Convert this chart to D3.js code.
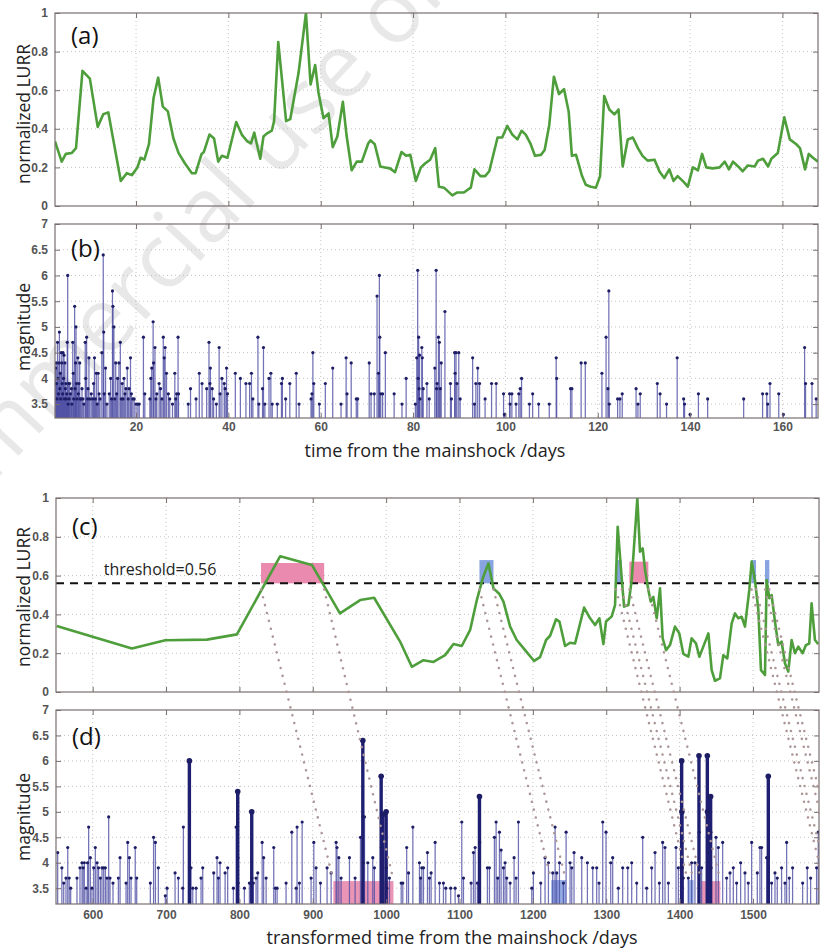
<!DOCTYPE html>
<html>
<head>
<meta charset="utf-8">
<script src="https://cdn.jsdelivr.net/npm/d3@7"></script>
<style>
body { margin: 0; background: #fff; }
svg { display: block; font-family: "Open Sans", "DejaVu Sans", sans-serif; }
.tick text { fill: #555; font-size: 12px; font-weight: 600; }
.tick line { stroke: #7a6e6e; }
</style>
</head>
<body>
<script>
// LURR curve against days (panel a)
var lurrDays = [2.45, 3.9, 4.8, 6.1, 7.0, 8.4, 10.0, 11.7, 12.9, 14.0,
    16.7, 18.0, 19.1, 20.3, 21.0, 21.8, 22.8, 23.8, 24.8, 25.8,
    26.9, 28.1, 29.2, 30.6, 32.1, 32.9, 34.2, 34.7, 35.9, 36.9,
    37.8, 38.6, 39.8, 41.7, 42.9, 44.1, 44.9, 45.6, 46.9, 47.6,
    48.3, 49.4, 49.9, 50.8, 52.5, 53.4, 55.2, 56.8, 57.8, 58.8,
    59.5, 60.6, 61.7, 62.6, 63.6, 64.8, 65.6, 66.7, 67.8, 68.9,
    70.3, 70.8, 71.7, 72.9, 73.9, 75.0, 76.1, 77.5, 78.5, 79.4,
    80.6, 81.7, 82.6, 83.7, 84.8, 85.6, 86.7, 88.5, 89.6, 91.0,
    92.5, 93.3, 94.6, 95.6, 96.5, 98.3, 99.3, 100.4, 101.5, 102.6,
    103.5, 104.4, 105.4, 106.4, 107.7, 108.5, 109.5, 110.5, 111.6, 112.7,
    113.7, 114.4, 115.3, 116.6, 117.4, 118.5, 119.6, 120.5, 121.4, 122.5,
    123.6, 124.5, 125.4, 126.5, 127.6, 128.7, 129.7, 130.8, 132.3, 133.4,
    134.4, 135.5, 136.4, 137.3, 138.6, 139.5, 140.6, 141.7, 142.6, 143.5,
    144.9, 146.4, 147.5, 148.4, 149.3, 150.4, 151.4, 152.5, 154.0, 154.7,
    155.8, 156.9, 157.6, 159.0, 160.4, 161.6, 163.0, 163.8, 164.9, 165.7,
    166.6, 167.7];
var lurrValues = [0.335, 0.23, 0.27, 0.275, 0.30, 0.70, 0.66, 0.41, 0.475, 0.485,
    0.13, 0.17, 0.16, 0.20, 0.25, 0.24, 0.32, 0.56, 0.665, 0.515,
    0.49, 0.35, 0.275, 0.22, 0.17, 0.17, 0.27, 0.28, 0.37, 0.35,
    0.23, 0.26, 0.25, 0.435, 0.37, 0.335, 0.325, 0.38, 0.245, 0.36,
    0.375, 0.39, 0.44, 0.85, 0.44, 0.45, 0.69, 1.0, 0.63, 0.73,
    0.59, 0.455, 0.48, 0.305, 0.36, 0.54, 0.365, 0.185, 0.23, 0.23,
    0.325, 0.34, 0.32, 0.205, 0.20, 0.195, 0.175, 0.28, 0.26, 0.265,
    0.13, 0.20, 0.22, 0.24, 0.30, 0.10, 0.095, 0.055, 0.07, 0.07,
    0.095, 0.19, 0.155, 0.155, 0.18, 0.355, 0.355, 0.415, 0.37, 0.345,
    0.39, 0.37, 0.325, 0.26, 0.265, 0.29, 0.42, 0.67, 0.58, 0.605,
    0.49, 0.26, 0.265, 0.155, 0.11, 0.10, 0.095, 0.155, 0.57, 0.50,
    0.475, 0.50, 0.205, 0.345, 0.355, 0.30, 0.26, 0.235, 0.24, 0.177,
    0.145, 0.19, 0.13, 0.155, 0.125, 0.10, 0.20, 0.185, 0.27, 0.20,
    0.195, 0.20, 0.23, 0.19, 0.23, 0.205, 0.18, 0.21, 0.205, 0.235,
    0.245, 0.205, 0.245, 0.275, 0.46, 0.345, 0.32, 0.30, 0.19, 0.27,
    0.25, 0.23];

// LURR curve against transformed time (panel c)
var transTimes = [551, 653.5, 699, 755.7, 796.6, 855.6, 898.8, 937, 964.6, 983.6,
    1019, 1035, 1050.9, 1064.5, 1080.4, 1091.8, 1103.1, 1114.5, 1123.6, 1131.7,
    1139.4, 1146.3, 1154.4, 1159.9, 1169, 1178, 1189.4, 1201.7, 1209.8, 1218,
    1223.5, 1231.6, 1236.2, 1243.9, 1250.7, 1257.5, 1269.8, 1278, 1284.8, 1290.7,
    1296.1, 1299.7, 1307.5, 1312, 1315.6, 1321.1, 1324.3, 1330.2, 1334.7, 1342.4,
    1346, 1349.7, 1352.9, 1357.4, 1360.6, 1364.2, 1368.8, 1373.3, 1376.9, 1381.5,
    1386.9, 1393.7, 1399.6, 1405.1, 1411.9, 1416.4, 1422.3, 1426.9, 1432.3, 1439.2,
    1443.7, 1448.2, 1455, 1459.6, 1465, 1471, 1475.5, 1480, 1484.6, 1489.1,
    1495, 1498.2, 1502.7, 1507.3, 1510.9, 1516.4, 1518.6, 1522.3, 1525.4, 1530,
    1534.5, 1539, 1543.6, 1548.1, 1552.7, 1557.2, 1561.8, 1567.7, 1572.2, 1576.7,
    1579.9, 1584.5, 1589];
var transValues = [0.34, 0.224, 0.267, 0.27, 0.297, 0.70, 0.655, 0.405, 0.474, 0.486,
    0.26, 0.13, 0.164, 0.155, 0.19, 0.247, 0.237, 0.32, 0.474, 0.586,
    0.663, 0.534, 0.505, 0.466, 0.337, 0.268, 0.216, 0.16, 0.18, 0.268,
    0.29, 0.375, 0.363, 0.237, 0.254, 0.25, 0.435, 0.38, 0.345, 0.38,
    0.247, 0.363, 0.39, 0.448, 0.852, 0.586, 0.44, 0.448, 0.577, 0.998,
    0.723, 0.74, 0.629, 0.526, 0.466, 0.49, 0.38, 0.534, 0.277, 0.216,
    0.242, 0.337, 0.302, 0.196, 0.182, 0.277, 0.251, 0.182, 0.234, 0.302,
    0.113, 0.058, 0.07, 0.19, 0.173, 0.354, 0.405, 0.38, 0.388, 0.337,
    0.526, 0.672, 0.577, 0.423, 0.113, 0.088, 0.577, 0.483, 0.50, 0.363,
    0.242, 0.26, 0.148, 0.105, 0.268, 0.2, 0.234, 0.2, 0.242, 0.25,
    0.457, 0.268, 0.247];

// earthquakes: [day, magnitude] (panel b)
var quakesDays = [[2.6,4.2],[2.7,4.3],[2.8,3.9],[2.9,3.6],[3.0,4.7],[3.1,4.0],[3.2,3.7],[3.3,4.3],[3.4,4.9],[3.5,3.8],
    [3.6,4.1],[3.7,3.6],[3.8,4.5],[3.9,4.3],[4.0,3.9],[4.1,3.7],[4.2,4.5],[4.3,4.0],[4.4,4.45],[4.5,3.6],
    [4.6,4.3],[4.7,3.8],[4.8,3.9],[4.9,3.6],[5.0,3.7],[5.1,4.7],[5.2,6.0],[5.3,3.5],[5.4,3.9],[5.5,3.6],
    [5.6,3.9],[5.8,3.7],[6.0,3.8],[6.1,3.5],[6.3,4.7],[6.4,4.1],[6.5,3.6],[6.7,5.4],[6.8,3.8],[6.9,4.3],
    [7.0,5.0],[7.1,3.9],[7.2,3.6],[7.4,4.4],[7.5,3.7],[7.6,3.9],[7.8,4.3],[7.9,3.6],[8.1,3.6],[8.3,3.8],
    [8.5,3.6],[8.7,3.5],[9.0,4.7],[9.1,4.0],[9.3,4.8],[9.5,3.6],[9.6,3.8],[9.8,4.4],[10.0,3.6],[10.3,3.7],
    [10.6,3.6],[10.8,3.9],[11.0,4.4],[11.2,3.6],[11.4,4.1],[11.6,3.5],[11.8,4.1],[12.0,3.7],[12.2,3.6],[12.6,4.5],
    [12.9,6.4],[13.0,4.9],[13.1,3.7],[13.4,4.2],[13.7,3.5],[14.2,3.7],[14.5,4.0],[14.7,3.6],[14.9,5.7],[15.0,5.4],
    [15.2,5.0],[15.4,3.6],[15.6,4.3],[15.8,3.7],[16.0,4.0],[16.3,4.3],[16.6,4.7],[16.8,3.6],[17.0,3.9],[17.2,3.6],
    [17.4,4.0],[17.6,3.7],[17.8,3.8],[18.1,4.2],[18.3,3.6],[18.5,3.8],[18.8,4.4],[19.0,3.7],[19.3,3.6],[19.6,3.6],
    [20.0,3.5],[20.4,3.5],[20.7,3.5],[21.6,4.8],[21.9,3.7],[23.0,3.6],[23.2,4.0],[23.4,4.2],[23.7,5.1],[23.8,4.3],
    [24.1,4.6],[24.3,3.6],[24.5,3.7],[25.0,3.9],[25.3,3.8],[25.6,3.6],[25.9,4.8],[26.1,4.4],[26.3,4.6],[26.6,4.1],
    [27.0,3.7],[27.3,3.6],[27.9,3.5],[28.4,4.1],[28.6,3.6],[28.8,3.7],[29.1,4.8],[29.2,3.7],
    [31.3,3.5],[31.8,3.8],[33.0,3.6],[33.7,4.1],[34.3,3.9],[35.3,3.8],[35.8,4.7],[36.0,3.9],[36.1,4.2],[36.5,3.8],
    [36.8,3.6],[37.4,3.5],[38.0,4.6],[38.2,3.7],[38.6,4.0],[39.1,3.9],[39.3,3.8],[39.6,4.2],[39.8,3.7],[41.5,4.1],
    [42.6,4.0],[43.8,3.9],[44.6,3.9],[45.0,4.1],[45.3,3.6],[46.4,4.8],[46.6,3.5],[47.4,3.8],[47.6,4.6],[47.9,3.5],
    [48.8,4.0],[49.2,4.1],[49.5,3.5],[50.6,3.5],[51.5,3.9],[51.7,4.0],[52.4,3.6],[53.3,3.9],[54.7,4.1],[55.3,3.5],
    [57.9,3.6],[58.1,3.7],[58.3,4.5],[58.5,3.9],[59.7,3.5],[61.0,3.9],[62.6,4.2],[64.4,3.5],[65.5,4.4],[65.7,3.7],
    [66.6,4.3],[67.7,3.6],[68.0,3.6],[70.5,4.3],[70.9,3.7],[71.6,3.7],[72.2,5.6],[72.5,4.1],[72.7,6.0],[72.8,4.8],
    [73.0,3.7],[73.4,3.7],[74.0,4.5],[75.9,3.7],[77.6,3.5],[78.5,4.0],
    [80.5,3.5],[80.8,4.4],[81.0,6.1],[81.1,4.0],[81.2,4.8],[81.3,3.8],[81.4,4.45],[81.5,3.6],[81.9,4.6],[82.0,4.4],
    [82.2,3.8],[83.0,3.9],[83.5,3.6],[84.7,4.2],[85.0,6.1],[85.1,3.8],[85.2,3.9],[85.5,4.8],[85.7,4.7],[85.9,3.8],
    [86.1,4.3],[86.9,5.3],[88.1,3.9],[88.3,3.6],[89.0,4.5],[89.1,4.1],[89.3,4.5],[89.5,3.9],[89.9,4.5],[90.2,3.6],
    [92.9,4.4],[93.3,3.5],[93.6,3.9],[94.0,4.2],[94.4,3.9],[95.6,3.6],[97.0,3.9],[98.0,3.9],[99.6,3.7],[99.8,3.3],
    [100.9,3.7],[101.0,3.5],[101.4,3.7],[102.3,3.5],[102.9,3.7],[103.2,3.8],[103.5,4.0],[105.2,3.5],[105.9,3.7],[107.2,3.5],
    [109.5,3.5],[111.0,4.4],[111.1,4.0],[114.1,3.8],[114.4,3.8],[116.4,4.3],[117.3,4.3],[120.9,4.1],[121.8,4.8],[122.2,3.8],
    [122.4,5.7],[122.5,3.5],[124.3,3.6],[124.8,3.6],[125.3,3.7],[128.3,3.8],[128.7,3.5],[129.2,3.7],[132.9,3.9],[133.5,3.7],
    [134.9,3.5],[137.2,4.4],[138.6,3.6],[138.8,3.5],[140.0,3.3],[141.8,3.7],[143.8,3.6],[151.6,3.6],[155.7,3.7],[156.6,3.7],
    [156.8,3.5],[157.3,3.9],[159.2,3.7],[160.2,3.3],[164.8,4.6],[165.0,3.9],[166.4,3.9],[167.3,3.6]];

// earthquakes: [transformed time, magnitude] (panel d)
var quakesTrans = [[552.3,4.2],[558,3.9],[560.5,3.6],[563.6,3.7],[566,4.3],[568,3.7],[570,3.5],[578.6,3.7],[582.7,3.9],[585.5,4.0],
    [587,3.9],[588.6,4.0],[591,3.5],[593,4.0],[594.5,4.7],[596.8,4.1],[599,3.5],[601.4,3.9],[603.6,4.3],[606,4.0],
    [608,3.9],[610.5,3.7],[612.7,3.9],[615,3.9],[617.3,3.9],[619.5,3.7],[621.8,4.9],[623.6,3.7],[627.7,3.6],[635,3.7],
    [637.3,4.1],[645.5,3.6],[647.7,4.4],[650,4.1],[652.3,3.7],[658,4.3],[660,3.7],[678.6,3.6],[683,4.5],[685.5,4.4],
    [689.5,3.9],[699,3.35],[701.4,3.5],[712.3,3.8],[716.8,3.7],[722.7,3.5],[723.6,4.7],[731.8,6.0],[732.2,3.9],[734,3.9],
    [736.4,3.5],[741,3.5],[747.7,3.7],[750,3.9],[765,3.8],[769.5,4.1],[771.4,3.7],[773.6,4.0],[780.5,3.8],[784,3.9],
    [791.8,3.5],[795.5,4.7],[797.7,5.4],[798,4.1],[798.3,3.6],[806.8,3.5],[813.6,3.6],[816.8,5.0],[817.1,3.7],[819,3.6],
    [822.7,3.7],[825,3.8],[831,4.4],[833,4.1],[836.4,3.7],[846.8,4.3],[849,3.5],[851.4,3.5],[863.6,3.6],[871.4,4.6],
    [877.3,3.5],[878.6,4.7],[881.8,3.6],[885.5,4.8],[897.7,3.7],[901.4,4.4],[904.5,3.9],[910.5,3.6],[919.5,3.9],[925,3.8],
    [931.8,4.4],[933,4.3],[935.5,4.1],[938.6,3.7],[950,4.1],[957.7,3.7],[965,4.5],[968.2,6.4],[968.5,4.9],[968.8,4.0],
    [970.5,4.9],[975,4.0],[981.8,4.1],[984,3.9],[993.2,5.7],[993.5,4.3],[995.5,4.95],[1000,5.0],[1000.3,3.9],[1001,3.5],
    [1004.5,3.7],[1020.5,3.6],[1022.7,3.6],[1028,4.3],[1030.5,3.8],[1036.4,4.7],[1045.4,4.0],[1047,3.7],[1048.6,3.9],[1050.9,3.9],
    [1056.3,4.2],[1059,3.7],[1061.3,3.8],[1066.8,4.4],[1072.7,3.6],[1078.1,3.6],[1081.3,3.5],[1088,3.5],[1094,3.5],[1098.6,3.35],
    [1103.1,4.8],[1105.4,3.7],[1115.8,3.6],[1119,4.2],[1121.3,4.3],[1124.4,3.6],[1127.2,5.3],[1127.5,4.4],[1138,3.9],[1140.8,3.9],
    [1147.6,4.5],[1149.9,4.8],[1152.1,3.7],[1154.4,4.6],[1156.7,4.25],[1159.9,3.9],[1162.1,4.0],[1164.4,3.7],[1169,3.6],[1174.4,4.1],
    [1177.1,3.7],[1180.3,4.8],[1198.5,3.5],[1200.7,3.8],[1210.7,3.6],[1216.6,4.1],[1221.2,4.0],[1227.1,3.8],[1230.3,4.7],[1232.5,3.8],
    [1236.2,4.0],[1241.6,3.6],[1245.3,4.6],[1250.7,4.0],[1253,3.9],[1256.1,4.2],[1266.6,4.1],[1274.3,4.0],[1281.6,3.9],[1287,3.9],
    [1290.2,3.6],[1295.2,4.8],[1299.7,4.6],[1306.1,4.0],[1308.8,4.1],[1316.5,3.5],[1322.4,3.9],[1329.3,3.9],[1334.7,4.0],[1341.5,3.6],
    [1349.7,4.5],[1355.1,3.5],[1361.9,3.9],[1366.5,4.2],[1372.4,3.6],[1376.9,4.4],[1380.1,4.3],[1384.7,3.6],[1395.1,4.3],[1398.3,3.9],
    [1402.8,6.0],[1403.1,5.0],[1403.4,4.4],[1403.7,3.9],[1405,3.7],[1411.9,3.7],[1416.4,4.0],[1420.9,4.0],[1426.4,6.1],[1426.7,4.6],
    [1427,3.8],[1430,3.9],[1437.8,6.1],[1438.1,5.0],[1438.4,4.2],[1442.3,5.3],[1442.6,4.6],[1442.9,3.9],[1449.6,4.5],[1452.8,4.3],
    [1458.7,4.4],[1464.1,3.7],[1468.7,3.8],[1473.2,3.9],[1477.7,3.6],[1483.2,4.0],[1489.1,3.8],[1493.6,3.6],[1498.2,4.4],[1505.9,3.8],
    [1509.5,4.3],[1511.8,4.3],[1518.6,4.1],[1520.9,5.7],[1521.2,4.1],[1525.4,3.6],[1530,3.8],[1533.1,3.7],[1539,3.9],[1543.6,3.6],
    [1545.9,4.4],[1549.5,3.7],[1554,3.9],[1567.7,3.6],[1574,3.9],[1578.6,3.7],[1586.7,3.9],[1589,4.6]];

var threshold = 0.56;
// alarm windows above the threshold in panel c: [start, end, top, kind]
var alarmWindows = [[829.5, 915.5, 0.665, "pink"], [1127.2, 1146.3, 0.68, "blue"],
    [1313.4, 1321.1, 0.68, "blue"], [1331.5, 1357.4, 0.672, "pink"],
    [1498, 1504.1, 0.68, "blue"], [1516.4, 1522.3, 0.68, "blue"]];
// matching windows in panel d: [start, end, top, kind]
var eventWindows = [[928, 1010, 3.64, "pink"], [1225, 1245, 3.66, "blue"],
    [1411, 1419, 3.66, "blue"], [1429.5, 1455.5, 3.64, "pink"]];
// dotted links from panel c to panel d: [time in c, time in d]
var windowLinks = [[829.5, 928], [915.5, 1010], [1127.2, 1225], [1146.3, 1245],
    [1313.4, 1411], [1321.1, 1419], [1331.5, 1429.5], [1357.4, 1455.5],
    [1498, 1596], [1504.1, 1602], [1516.4, 1614], [1522.3, 1620]];

var dayTicks = [20, 40, 60, 80, 100, 120, 140, 160];
var transTicks = [600, 700, 800, 900, 1000, 1100, 1200, 1300, 1400, 1500];
var lurrTicks = [0, 0.2, 0.4, 0.6, 0.8, 1];
var magTicks = [3.5, 4, 4.5, 5, 5.5, 6, 6.5, 7];

var windowColor = {pink: "#e98aae", blue: "#87a3e0"};
var frameColor = "#7a6e6e";
var greenColor = "#4e9e3c";

var svg = d3.select("body").append("svg")
    .attr("width", 824)
    .attr("height", 949);

var defs = svg.append("defs");

function makePanel(id, left, top, width, height, xDomain, yDomain) {
    var g = svg.append("g")
        .attr("transform", "translate(" + left + "," + top + ")");

    defs.append("clipPath").attr("id", "clip-" + id)
        .append("rect")
        .attr("width", width)
        .attr("height", height);

    return {
        id: id, g: g, left: left, top: top, width: width, height: height,
        x: d3.scaleLinear().domain(xDomain).range([0, width]),
        y: d3.scaleLinear().domain(yDomain).range([height, 0])
    };
}

function drawGrid(p, xTicks, yTicks) {
    var grid = p.g.append("g").attr("class", "grid");
    grid.selectAll(".vgrid").data(xTicks).enter().append("line")
        .attr("x1", function (d) { return p.x(d); })
        .attr("x2", function (d) { return p.x(d); })
        .attr("y1", 0).attr("y2", p.height);
    grid.selectAll(".hgrid").data(yTicks.filter(function (d) {
            var v = p.y(d);
            return v > 1 && v < p.height - 1;
        })).enter().append("line")
        .attr("x1", 0).attr("x2", p.width)
        .attr("y1", function (d) { return p.y(d); })
        .attr("y2", function (d) { return p.y(d); });
    grid.selectAll("line")
        .attr("stroke", "#c4c4c4")
        .attr("stroke-width", 1)
        .attr("stroke-dasharray", "1,3");
}

function drawAxes(p, xTicks, yTicks, showX, xPad) {
    var fmt = function (d) { return String(d); };

    p.g.append("g")
        .attr("class", "yaxis")
        .call(d3.axisLeft(p.y).tickValues(yTicks).tickSizeInner(-5).tickSizeOuter(0)
            .tickPadding(7).tickFormat(fmt));
    p.g.append("g")
        .attr("transform", "translate(" + p.width + ",0)")
        .call(d3.axisRight(p.y).tickValues(yTicks).tickSizeInner(-5).tickSizeOuter(0)
            .tickFormat(""));
    p.g.append("g")
        .call(d3.axisTop(p.x).tickValues(xTicks).tickSizeInner(-5).tickSizeOuter(0)
            .tickFormat(""));
    p.g.append("g")
        .attr("transform", "translate(0," + p.height + ")")
        .call(d3.axisBottom(p.x).tickValues(xTicks).tickSizeInner(-5).tickSizeOuter(0)
            .tickPadding(xPad).tickFormat(showX ? fmt : ""));

    p.g.selectAll(".domain").remove();

    p.g.append("rect")
        .attr("width", p.width)
        .attr("height", p.height)
        .attr("fill", "none")
        .attr("stroke", frameColor)
        .attr("stroke-width", 1.2);
}

function drawLurr(p, xs, ys) {
    var pts = xs.map(function (t, i) { return [t, ys[i]]; });
    var line = d3.line()
        .x(function (d) { return p.x(d[0]); })
        .y(function (d) { return p.y(d[1]); });
    p.g.append("path")
        .datum(pts)
        .attr("clip-path", "url(#clip-" + p.id + ")")
        .attr("d", line)
        .attr("fill", "none")
        .attr("stroke", greenColor)
        .attr("stroke-width", 2.6)
        .attr("stroke-linejoin", "round");
}

function drawStems(p, events, thickFrom) {
    var base = p.y.domain()[0];
    var g = p.g.append("g").attr("clip-path", "url(#clip-" + p.id + ")");
    var thin = events.filter(function (d) { return d[1] < thickFrom; });
    var thick = events.filter(function (d) { return d[1] >= thickFrom; });

    g.selectAll(".stem").data(thin).enter().append("line")
        .attr("class", "stem")
        .attr("x1", function (d) { return p.x(d[0]); })
        .attr("x2", function (d) { return p.x(d[0]); })
        .attr("y1", p.y(base))
        .attr("y2", function (d) { return p.y(d[1]); })
        .attr("stroke", "#4e4ea4")
        .attr("stroke-opacity", 0.8)
        .attr("stroke-width", 1.25);

    g.selectAll(".bigstem").data(thick).enter().append("line")
        .attr("class", "bigstem")
        .attr("x1", function (d) { return p.x(d[0]); })
        .attr("x2", function (d) { return p.x(d[0]); })
        .attr("y1", p.y(base))
        .attr("y2", function (d) { return p.y(d[1]); })
        .attr("stroke", "#1f1f72")
        .attr("stroke-width", 3.4);

    g.selectAll(".dot").data(events).enter().append("circle")
        .attr("class", "dot")
        .attr("cx", function (d) { return p.x(d[0]); })
        .attr("cy", function (d) { return p.y(d[1]); })
        .attr("r", function (d) { return d[1] >= thickFrom ? 2.8 : 1.6; })
        .attr("fill", "#1d1d66");
}

function panelLabel(p, txt, dy) {
    p.g.append("text")
        .attr("x", 16)
        .attr("y", dy)
        .attr("font-size", 24)
        .attr("fill", "#111")
        .text(txt);
}

function yTitle(txt, cy) {
    svg.append("text")
        .attr("transform", "translate(" + 30 + "," + cy + ") rotate(-90)")
        .attr("text-anchor", "middle")
        .attr("font-size", 17.5)
        .attr("fill", "#222")
        .text(txt);
}

// faint watermark behind the panels
svg.append("text")
    .attr("transform", "translate(150,315) rotate(-47)")
    .attr("text-anchor", "middle")
    .attr("font-size", 90)
    .attr("fill", "#000")
    .attr("fill-opacity", 0.09)
    .text("Non-commercial use only");

// panels
var pa = makePanel("a", 55, 13, 763, 193, [2.45, 167.7], [0, 1]);
var pb = makePanel("b", 55, 224, 763, 194, [2.45, 167.7], [3.23, 7]);
var pc = makePanel("c", 56, 498, 763, 194, [550, 1590], [0, 1]);
var pd = makePanel("d", 56, 710, 763, 194, [550, 1590], [3.19, 7]);

// (a)
drawGrid(pa, dayTicks, lurrTicks);
drawLurr(pa, lurrDays, lurrValues);
drawAxes(pa, dayTicks, lurrTicks, false, 4);
panelLabel(pa, "(a)", 31);

// (b)
drawGrid(pb, dayTicks, magTicks);
drawStems(pb, quakesDays, Infinity);
drawAxes(pb, dayTicks, magTicks, true, 4);
panelLabel(pb, "(b)", 33);

// (c)
drawGrid(pc, transTicks, lurrTicks);
pc.g.append("g").selectAll("rect").data(alarmWindows).enter().append("rect")
    .attr("x", function (d) { return pc.x(d[0]); })
    .attr("width", function (d) { return pc.x(d[1]) - pc.x(d[0]); })
    .attr("y", function (d) { return pc.y(d[2]); })
    .attr("height", function (d) { return pc.y(threshold) - pc.y(d[2]); })
    .attr("fill", function (d) { return windowColor[d[3]]; });
pc.g.append("line")
    .attr("x1", 0).attr("x2", pc.width)
    .attr("y1", pc.y(threshold)).attr("y2", pc.y(threshold))
    .attr("stroke", "#111")
    .attr("stroke-width", 2)
    .attr("stroke-dasharray", "8,6");
drawLurr(pc, transTimes, transValues);
drawAxes(pc, transTicks, lurrTicks, false, 4);
panelLabel(pc, "(c)", 37);
pc.g.append("text")
    .attr("x", pc.x(615))
    .attr("y", pc.y(threshold) - 8)
    .attr("font-size", 16)
    .attr("fill", "#222")
    .text("threshold=" + threshold);

// (d)
drawGrid(pd, transTicks, magTicks);
pd.g.append("g").attr("clip-path", "url(#clip-d)")
    .selectAll("rect").data(eventWindows).enter().append("rect")
    .attr("x", function (d) { return pd.x(d[0]); })
    .attr("width", function (d) { return pd.x(d[1]) - pd.x(d[0]); })
    .attr("y", function (d) { return pd.y(d[2]); })
    .attr("height", function (d) { return pd.height - pd.y(d[2]); })
    .attr("fill", function (d) { return windowColor[d[3]]; })
    .attr("opacity", 0.9);
drawStems(pd, quakesTrans, 4.95);
drawAxes(pd, transTicks, magTicks, true, 6);
panelLabel(pd, "(d)", 35);

// dotted links between (c) and (d)
defs.append("clipPath").attr("id", "clip-links")
    .append("rect")
    .attr("x", 0).attr("y", 0)
    .attr("width", pc.left + pc.width)
    .attr("height", 949);
svg.append("g")
    .attr("clip-path", "url(#clip-links)")
    .selectAll("line").data(windowLinks).enter().append("line")
    .attr("x1", function (d) { return pc.left + pc.x(d[0]); })
    .attr("y1", pc.top + pc.y(threshold) + 6)
    .attr("x2", function (d) { return pd.left + pd.x(d[1]); })
    .attr("y2", pd.top + pd.y(3.66))
    .attr("stroke", "#ad9696")
    .attr("stroke-width", 2.5)
    .attr("stroke-linecap", "round")
    .attr("stroke-dasharray", "0.1,8");

// axis titles
yTitle("normalized LURR", 114);
yTitle("magnitude", 327);
yTitle("normalized LURR", 597);
yTitle("magnitude", 817);

svg.append("text")
    .attr("x", 435).attr("y", 457)
    .attr("text-anchor", "middle")
    .attr("font-size", 18)
    .attr("fill", "#222")
    .text("time from the mainshock /days");

svg.append("text")
    .attr("x", 452).attr("y", 944)
    .attr("text-anchor", "middle")
    .attr("font-size", 18)
    .attr("fill", "#222")
    .text("transformed time from the mainshock /days");
</script>
</body>
</html>
